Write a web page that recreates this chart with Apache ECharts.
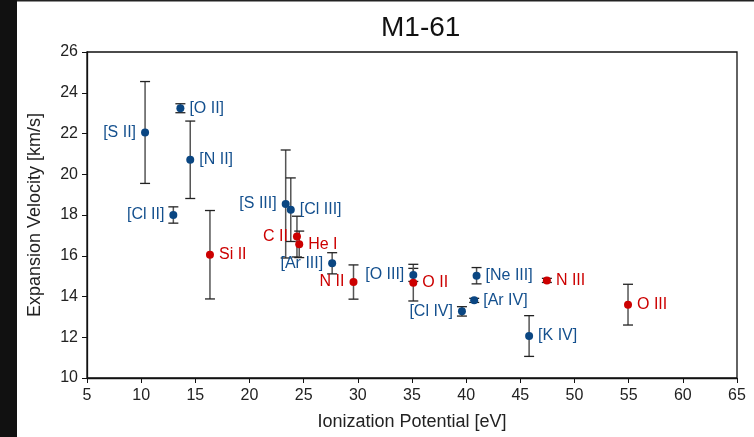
<!DOCTYPE html>
<html>
<head>
<meta charset="utf-8">
<script src="https://cdn.jsdelivr.net/npm/echarts@6/dist/echarts.min.js"></script>
<style>
  html, body { margin: 0; padding: 0; background: #fff; }
  #chart { width: 754px; height: 437px; }
</style>
</head>
<body>
<div id="chart"></div>
<script>
// ions with forbidden lines (blue)
const blueNames = ['[S II]', '[Cl II]', '[O II]', '[N II]', '[S III]', '[Cl III]', '[Ar III]', '[O III]', '[Cl IV]', '[Ar IV]', '[Ne III]', '[K IV]'];
const blueIP    = [10.36, 12.97, 13.62, 14.53, 23.34, 23.81, 27.63, 35.12, 39.61, 40.74, 40.96, 45.81];
const blueVel   = [22.05, 18.0, 23.24, 20.71, 18.54, 18.26, 15.63, 15.06, 13.27, 13.81, 15.02, 12.06];
const blueErr   = [2.5, 0.4, 0.22, 1.9, 2.65, 1.56, 0.52, 0.32, 0.23, 0.1, 0.4, 1.0];

// recombination lines (red)
const redNames = ['Si II', 'C II', 'He I', 'N II', 'O II', 'N III', 'O III'];
const redIP    = [16.35, 24.38, 24.59, 29.6, 35.12, 47.45, 54.94];
const redVel   = [16.05, 16.94, 16.56, 14.71, 14.68, 14.79, 13.6];
const redErr   = [2.17, 1.0, 0.65, 0.84, 0.9, 0.1, 1.0];

// labels drawn on the left of their point
const leftLabeled = ['[S II]', '[Cl II]', '[S III]', 'C II', '[Ar III]', 'N II', '[O III]', '[Cl IV]'];

const BLUE = '#0a4682';
const BLUE_TXT = '#14508e';
const RED = '#cc0000';
const RED_TXT = '#cc0000';

function points(names, ip, vel) {
  return names.map((n, i) => ({
    name: n,
    value: [ip[i], vel[i]],
    label: { position: leftLabeled.includes(n) ? 'left' : 'right' }
  }));
}

const errData = blueIP.map((x, i) => [x, blueVel[i] - blueErr[i], blueVel[i] + blueErr[i]])
  .concat(redIP.map((x, i) => [x, redVel[i] - redErr[i], redVel[i] + redErr[i]]));

function renderErr(params, api) {
  const lo = api.coord([api.value(0), api.value(1)]);
  const hi = api.coord([api.value(0), api.value(2)]);
  const w = 5;
  return {
    type: 'group',
    children: [
      { type: 'line', shape: { x1: lo[0], y1: lo[1], x2: hi[0], y2: hi[1] }, style: { stroke: '#555', lineWidth: 1.5 } },
      { type: 'line', shape: { x1: lo[0] - w, y1: lo[1], x2: lo[0] + w, y2: lo[1] }, style: { stroke: '#222', lineWidth: 1.3 } },
      { type: 'line', shape: { x1: hi[0] - w, y1: hi[1], x2: hi[0] + w, y2: hi[1] }, style: { stroke: '#222', lineWidth: 1.3 } }
    ]
  };
}

const chart = echarts.init(document.getElementById('chart'));
const FONT = 'Liberation Sans, Arial, sans-serif';

chart.setOption({
  backgroundColor: '#fff',
  animation: false,
  textStyle: { fontFamily: FONT },
  title: {
    text: 'M1-61',
    left: 376,
    top: 9,
    textStyle: { fontSize: 28, fontWeight: 'normal', color: '#111', fontFamily: FONT }
  },
  graphic: [
    { type: 'rect', shape: { x: 0, y: 0, width: 17, height: 437 }, style: { fill: '#111' }, z: 100 },
    { type: 'rect', shape: { x: 17, y: 0, width: 737, height: 1.5 }, style: { fill: '#222' }, z: 100 }
  ],
  grid: {
    left: 87, right: 17, top: 52, bottom: 59,
    show: true, borderColor: '#111', borderWidth: 1.3, backgroundColor: '#fff'
  },
  xAxis: {
    type: 'value', min: 5, max: 65, interval: 5,
    name: 'Ionization Potential [eV]', nameLocation: 'middle', nameGap: 35,
    nameTextStyle: { fontSize: 18, color: '#222' },
    axisLine: { onZero: false, lineStyle: { color: '#111', width: 1.3 } },
    axisTick: { length: 5, lineStyle: { color: '#111' } },
    axisLabel: { fontSize: 16, color: '#222', margin: 10 },
    splitLine: { show: false }
  },
  yAxis: {
    type: 'value', min: 10, max: 26, interval: 2,
    name: 'Expansion Velocity [km/s]', nameLocation: 'middle', nameGap: 43,
    nameTextStyle: { fontSize: 18, color: '#222' },
    axisLine: { onZero: false, lineStyle: { color: '#111', width: 1.3 } },
    axisTick: { length: 5, lineStyle: { color: '#111' } },
    axisLabel: { fontSize: 16, color: '#222', margin: 9 },
    splitLine: { show: false }
  },
  series: [
    {
      type: 'custom', renderItem: renderErr, data: errData, z: 1,
      encode: { x: 0, y: [1, 2] }
    },
    {
      type: 'scatter', symbolSize: 8, z: 3,
      itemStyle: { color: BLUE, opacity: 1 },
      label: { show: true, formatter: '{b}', fontSize: 16, color: BLUE_TXT, distance: 5 },
      data: points(blueNames, blueIP, blueVel)
    },
    {
      type: 'scatter', symbolSize: 8, z: 3,
      itemStyle: { color: RED, opacity: 1 },
      label: { show: true, formatter: '{b}', fontSize: 16, color: RED_TXT, distance: 5 },
      data: points(redNames, redIP, redVel)
    }
  ]
});
</script>
</body>
</html>
